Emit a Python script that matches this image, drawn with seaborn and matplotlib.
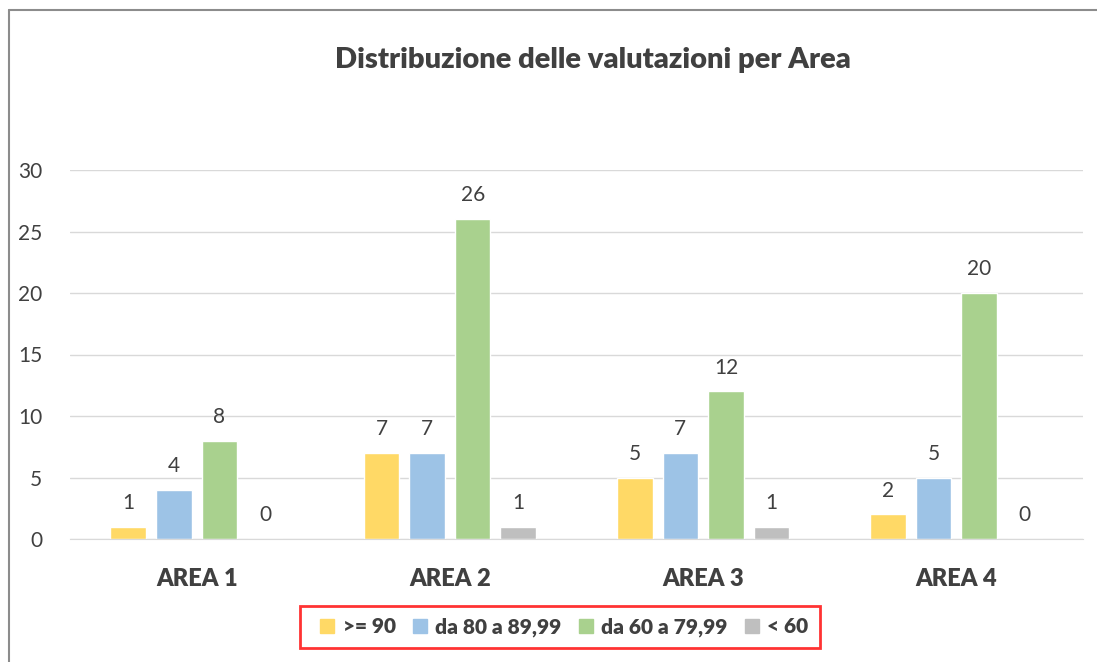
import matplotlib
matplotlib.use("Agg")
import matplotlib.pyplot as plt
import seaborn as sns
import pandas as pd
from matplotlib.lines import Line2D

# Data
areas = ["AREA 1", "AREA 2", "AREA 3", "AREA 4"]
fasce = [">= 90", "da 80 a 89,99", "da 60 a 79,99", "< 60"]
ge_90 = [1, 7, 5, 2]
da_80 = [4, 7, 7, 5]
da_60 = [8, 26, 12, 20]
lt_60 = [0, 1, 1, 0]
colori = ["#FFD966", "#9DC3E6", "#A9D18E", "#BFBFBF"]

sns.set_style("white")
plt.rcParams['font.family'] = ['Lato', 'DejaVu Sans']

rows = []
for serie, valori in zip(fasce, [ge_90, da_80, da_60, lt_60]):
    for area, v in zip(areas, valori):
        rows.append({"Area": area, "Fascia": serie, "Valore": v})
df = pd.DataFrame(rows)

W, H = 1097, 662
fig = plt.figure(figsize=(W / 100, H / 100), dpi=100)
ax = fig.add_axes([70 / W, 1 - 539 / H, (1083 - 70) / W, (539 - 170) / H])

sns.barplot(data=df, x="Area", y="Valore", hue="Fascia", hue_order=fasce,
            palette=colori, width=0.72, gap=0.22, ax=ax, legend=False,
            saturation=1)

for cont in ax.containers:
    ax.bar_label(cont, padding=10, fontsize=15, color="#404040")

ax.set_ylim(0, 30)
ax.set_yticks(range(0, 31, 5))
ax.set_xlim(-0.5, 3.5)
ax.grid(axis="y", color="#D9D9D9", linewidth=1)
ax.set_axisbelow(True)
for s in ["top", "right", "left"]:
    ax.spines[s].set_visible(False)
ax.spines["bottom"].set_color("#D9D9D9")
ax.tick_params(axis="both", length=0)
ax.tick_params(axis="y", labelsize=15, labelcolor="#404040", pad=20)
ax.tick_params(axis="x", labelsize=17, labelcolor="#404040", pad=21)
for lbl in ax.get_xticklabels():
    lbl.set_fontweight("heavy")
ax.set_xlabel("")
ax.set_ylabel("")

fig.text(593 / W, 1 - 60 / H, "Distribuzione delle valutazioni per Area",
         ha="center", va="center", fontsize=21, fontweight="heavy", color="#404040")

handles = [Line2D([0], [0], marker="s", linestyle="", markersize=10,
                  markerfacecolor=c, markeredgecolor=c) for c in colori]
leg = fig.legend(handles, fasce, loc="center", bbox_to_anchor=(560 / W, 1 - 627 / H),
                 ncol=4, frameon=True, handletextpad=0.0, handlelength=1.5,
                 columnspacing=0.4, borderpad=0.55, prop={"weight": "heavy", "size": 15})
leg.get_frame().set_edgecolor("red")
leg.get_frame().set_linewidth(2)
leg.get_frame().set_boxstyle("square", pad=0)
for t in leg.get_texts():
    t.set_color("#404040")

# outer chart border (top and left visible)
fig.add_artist(Line2D([9 / W, 9 / W], [0, 1 - 10 / H], color="#8C8C8C", linewidth=1.5))
fig.add_artist(Line2D([9 / W, 1], [1 - 10 / H, 1 - 10 / H], color="#8C8C8C", linewidth=1.5))

fig.savefig("out.png", dpi=100)
